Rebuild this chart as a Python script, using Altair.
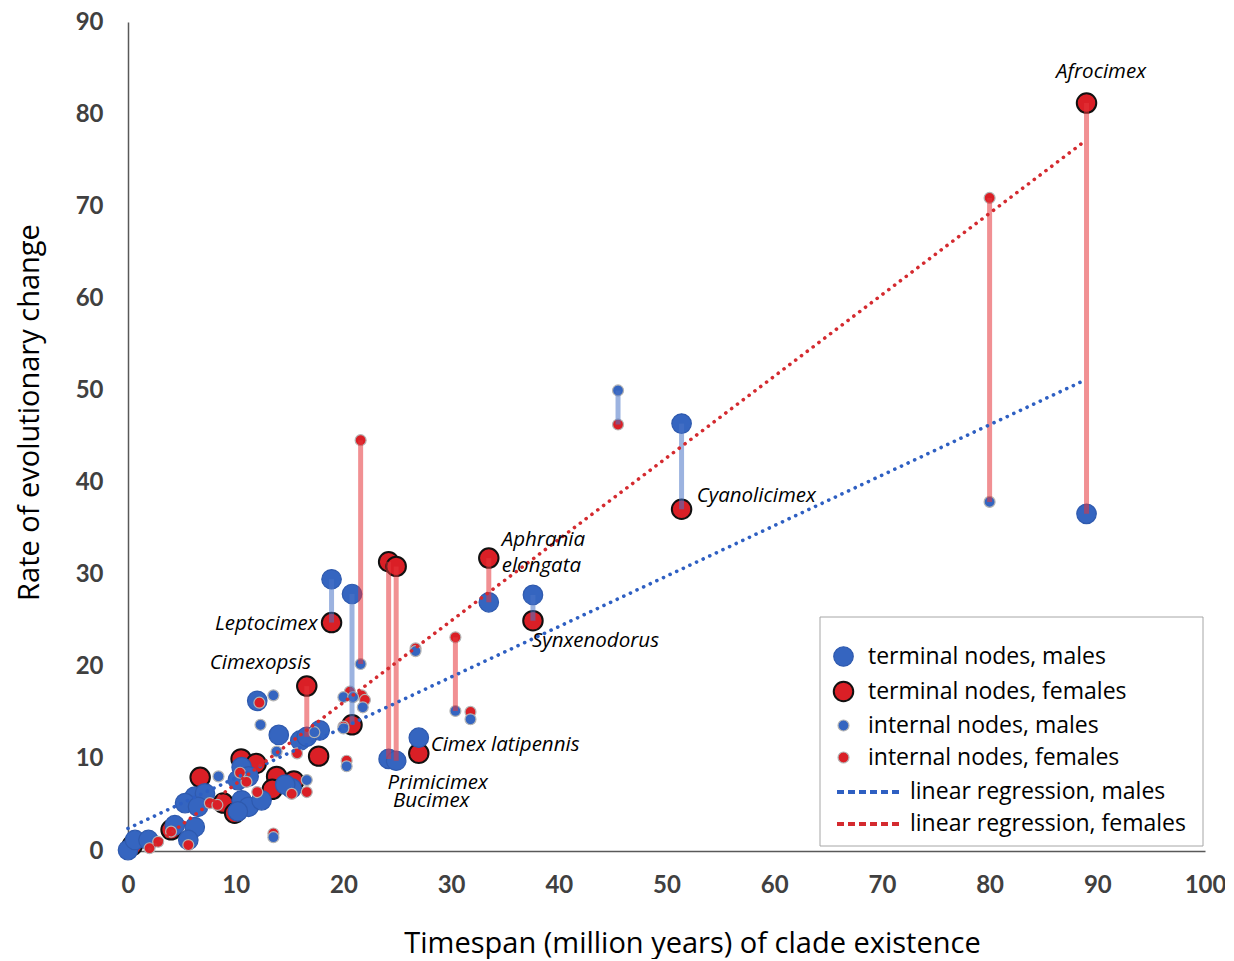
import altair as alt
import pandas as pd

# ---------------- data ----------------
# terminal nodes, males
tm_x = [89.0, 51.4, 37.6, 33.5, 27.0, 24.2, 24.9, 18.9, 20.8, 12.0, 14.0, 16.0, 16.6, 17.8,
        15.2, 14.6, 10.55, 11.2, 10.2, 6.2, 7.15, 5.3, 6.5, 10.55, 11.2, 10.2, 12.4, 4.35,
        6.2, 5.6, 0.0, 0.65, 1.9]
tm_y = [36.6, 46.4, 27.8, 27.0, 12.3, 10.0, 9.8, 29.5, 27.9, 16.3, 12.6, 12.0, 12.4, 13.1,
        6.8, 7.2, 9.1, 8.1, 7.7, 5.9, 6.25, 5.2, 4.8, 5.5, 4.8, 4.3, 5.5, 2.8,
        2.6, 1.2, 0.1, 1.2, 1.2]
# terminal nodes, females
tf_x = [89.0, 51.4, 37.6, 33.5, 27.0, 24.2, 24.9, 18.9, 20.8, 16.6, 17.7, 10.5, 11.9, 6.7,
        13.8, 15.4, 8.85, 9.9, 4.0, 0.4, 13.4]
tf_y = [81.2, 37.1, 25.0, 31.8, 10.6, 31.4, 30.9, 24.8, 13.7, 17.9, 10.3, 10.0, 9.5, 8.0,
        8.1, 7.6, 5.2, 4.1, 2.3, 0.6, 6.7]
# internal nodes, males
im_x = [80.0, 45.5, 30.4, 31.8, 26.7, 21.6, 21.8, 20.0, 20.9, 20.3, 20.0, 13.5, 12.3, 13.8,
        16.6, 13.5, 8.4, 17.3]
im_y = [37.9, 50.0, 15.2, 14.3, 21.7, 20.3, 15.6, 16.7, 16.7, 9.2, 13.3, 16.9, 13.7, 10.8,
        7.7, 1.5, 8.1, 12.9]
# internal nodes, females
if_x = [80.0, 45.5, 30.4, 31.8, 26.7, 21.6, 20.6, 21.7, 20.3, 20.0, 15.7, 12.2, 15.2, 16.6,
        13.5, 7.6, 8.3, 4.0, 5.6, 2.0, 2.8, 12.0, 10.4, 11.0, 22.0]
if_y = [70.9, 46.3, 23.2, 15.1, 22.0, 44.6, 17.3, 16.9, 9.8, 13.5, 10.6, 16.1, 6.2, 6.4,
        1.9, 5.2, 5.0, 2.1, 0.65, 0.3, 1.0, 6.4, 8.5, 7.5, 16.4]

# male / female pairs joined by a vertical bar
pair_x = [89.0, 80.0, 51.4, 45.5, 37.6, 33.5, 30.4, 24.2, 24.9, 21.6, 20.8, 18.9, 16.6]
pair_m = [36.6, 37.9, 46.4, 50.0, 27.8, 27.0, 15.2, 10.0, 9.8, 20.3, 27.9, 29.5, 12.4]
pair_f = [81.2, 70.9, 37.1, 46.3, 25.0, 31.8, 23.2, 31.4, 30.9, 44.6, 13.7, 24.8, 17.9]

# regression line end points
reg_m_x = [0.0, 89.0]
reg_m_y = [2.45, 51.2]
reg_f_x = [2.0, 89.0]
reg_f_y = [0.2, 77.2]

# species labels (anchor in data units)
label_text = ["Afrocimex", "Cyanolicimex", "Aphrania", "elongata", "Synxenodorus",
              "Leptocimex", "Cimexopsis", "Cimex latipennis", "Primicimex", "Bucimex"]
label_x = [90.35, 52.8, 34.7, 34.7, 37.5, 17.6, 12.3, 28.1, 24.1, 24.6]
label_y = [84.6, 38.5, 33.8, 30.9, 22.8, 24.65, 20.4, 11.5, 7.4, 5.4]

series_names = ["terminal nodes, males", "terminal nodes, females",
                "internal nodes, males", "internal nodes, females"]
fit_names = ["linear regression, males", "linear regression, females"]
x_ticks = [0, 10, 20, 30, 40, 50, 60, 70, 80, 90, 100]
y_ticks = [0, 10, 20, 30, 40, 50, 60, 70, 80, 90]

# ---------------- tables ----------------
BLUE = "#3565C0"
RED = "#DA1F26"
rank = {series_names[1]: 0, series_names[0]: 1, series_names[3]: 2, series_names[2]: 3}
rows = []
for xs, ys, s in [(tm_x, tm_y, series_names[0]), (tf_x, tf_y, series_names[1]),
                  (im_x, im_y, series_names[2]), (if_x, if_y, series_names[3])]:
    for a, b in zip(xs, ys):
        rows.append({"x": a, "y": b, "series": s, "rank": rank[s]})
points = pd.DataFrame(rows)

pairs = pd.DataFrame({"x": pair_x, "male": pair_m, "female": pair_f})

reg_rows = []
for xs, ys, s in [(reg_m_x, reg_m_y, fit_names[0]), (reg_f_x, reg_f_y, fit_names[1])]:
    for a, b in zip(xs, ys):
        reg_rows.append({"x": a, "y": b, "fit": s})
reg = pd.DataFrame(reg_rows)

labels = pd.DataFrame({"text": label_text, "x": label_x, "y": label_y})
align_of = {"Leptocimex": "right", "Cimexopsis": "center", "Afrocimex": "center"}
labels["anchor"] = [align_of.get(t, "left") for t in label_text]

# ---------------- scales / axes ----------------
FONT = "Open Sans"
xscale = alt.Scale(domain=[0, 100], nice=False, zero=False)
yscale = alt.Scale(domain=[0, 90], nice=False, zero=False)
xaxis = alt.Axis(values=x_ticks, title="Timespan (million years) of clade existence",
                 labelPadding=22, titlePadding=32, labelFlush=False, titleX=564)
yaxis = alt.Axis(values=y_ticks, title="Rate of evolutionary change",
                 labelPadding=25, titlePadding=31, labelFlush=False, titleY=390)

def pt_legend():
    return alt.Legend(orient="none", legendX=704, legendY=623, padding=0,
                      labelFont=FONT, labelFontSize=23, labelColor="black",
                      labelOffset=13, rowPadding=8, symbolOpacity=1, labelLimit=400)

pts = alt.Chart(points).mark_circle(opacity=1).encode(
    x=alt.X("x:Q", scale=xscale, axis=xaxis),
    y=alt.Y("y:Q", scale=yscale, axis=yaxis),
    color=alt.Color("series:N", title=None,
                    scale=alt.Scale(domain=series_names, range=[BLUE, RED, BLUE, RED]),
                    legend=pt_legend()),
    size=alt.Size("series:N", title=None,
                  scale=alt.Scale(type="ordinal", domain=series_names, range=[380, 380, 120, 120]),
                  legend=pt_legend()),
    stroke=alt.Stroke("series:N", title=None,
                      scale=alt.Scale(domain=series_names,
                                      range=["#2F5AAE", "#111111", "#B4B4B4", "#B4B4B4"]),
                      legend=pt_legend()),
    strokeWidth=alt.StrokeWidth("series:N", title=None,
                                scale=alt.Scale(type="ordinal", domain=series_names,
                                                range=[1.2, 2.0, 1.2, 1.2]),
                                legend=pt_legend()),
    order=alt.Order("rank:Q"),
)

bars = alt.Chart(pairs).mark_rule(strokeWidth=5, opacity=0.55).encode(
    x="x:Q",
    y="male:Q",
    y2="female:Q",
    color=alt.condition("datum.male > datum.female", alt.value("#4A74C6"), alt.value("#E5343B")),
)

fits = alt.Chart(reg).mark_line(strokeDash=[0.1, 7.2], strokeCap="round", strokeWidth=3.6).encode(
    x="x:Q",
    y="y:Q",
    detail="fit:N",
    color=alt.Color("fit:N", title=None,
                    scale=alt.Scale(domain=fit_names, range=["#2E5FC2", "#D42A2F"]),
                    legend=alt.Legend(orient="none", legendX=707, legendY=760, padding=0,
                                      symbolType="stroke", symbolSize=4225,
                                      symbolStrokeWidth=4, symbolDash=[7, 4],
                                      clipHeight=20, rowPadding=9,
                                      labelFont=FONT, labelFontSize=23, labelColor="black",
                                      labelOffset=6, labelLimit=400)),
)

box = alt.Chart(pd.DataFrame({"k": [0]})).mark_rect(
    fill="white", stroke="#A6A6A6", strokeWidth=1
).encode(x=alt.value(692), x2=alt.value(1075), y=alt.value(595), y2=alt.value(824))

def text_layer(al):
    return alt.Chart(labels).transform_filter(alt.datum.anchor == al).mark_text(
        font=FONT, fontStyle="italic", fontSize=20.5, color="black", align=al, baseline="middle"
    ).encode(x="x:Q", y="y:Q", text="text:N")

chart = alt.layer(
    box, pts, bars, fits, text_layer("left"), text_layer("right"), text_layer("center")
).resolve_scale(
    color="independent", size="independent", stroke="independent", strokeWidth="independent"
).properties(
    width=1077, height=829,
    autosize=alt.AutoSizeParams(type="none"),
    padding={"left": 120, "top": 14, "right": 20, "bottom": 108},
).configure_view(stroke=None).configure_axis(
    grid=False, ticks=False, tickSize=0,
    domainColor="#595959", domainWidth=1.5,
    labelFont="Lato", labelFontWeight="bold", labelFontSize=24, labelColor="#404040",
    titleFont=FONT, titleFontWeight="normal", titleFontSize=29, titleColor="black",
)

chart.save("out.html", embed_options={"renderer": "svg", "actions": False})
